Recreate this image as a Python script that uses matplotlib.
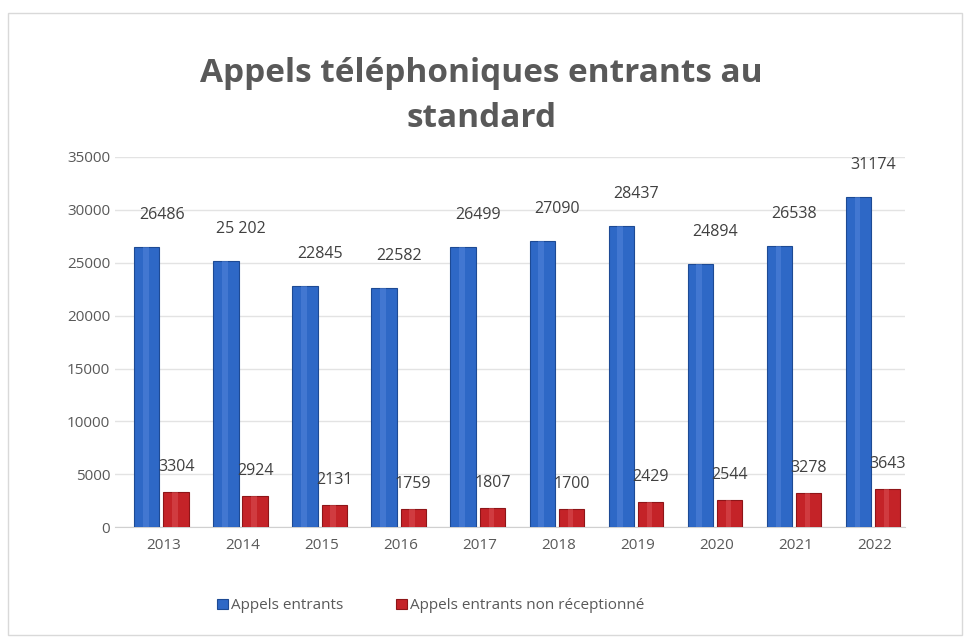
import matplotlib.pyplot as plt
import numpy as np
from matplotlib.patches import Rectangle

years = ["2013", "2014", "2015", "2016", "2017", "2018", "2019", "2020", "2021", "2022"]
appels = [26486, 25202, 22845, 22582, 26499, 27090, 28437, 24894, 26538, 31174]
non_recus = [3304, 2924, 2131, 1759, 1807, 1700, 2429, 2544, 3278, 3643]
blue_labels = ["26486", "25 202", "22845", "22582", "26499", "27090", "28437", "24894", "26538", "31174"]

plt.rcParams['font.family'] = ['Open Sans', 'DejaVu Sans']

fig = plt.figure(figsize=(9.68, 6.43), dpi=100)
ax = fig.add_axes([0.119, 0.180, 0.816, 0.576])

x = np.arange(len(years))
w = 0.32
blue = '#2e68c6'
red = '#c42328'

bb = ax.bar(x - 0.21, appels, w, color=blue, edgecolor='#1d4a94', linewidth=0.8,
            label='Appels entrants', zorder=3)
rb = ax.bar(x + 0.16, non_recus, w, color=red, edgecolor='#8e1518', linewidth=0.8,
            label='Appels entrants non réceptionné', zorder=3)

# light highlight to mimic the cylinder look
for bars, hl in ((bb, '#5b8be0'), (rb, '#e05a5e')):
    for b in bars:
        ax.add_patch(Rectangle((b.get_x() + b.get_width() * 0.35, 0), b.get_width() * 0.22,
                               b.get_height(), color=hl, alpha=0.45, lw=0, zorder=4))

for i in range(len(years)):
    ax.annotate(blue_labels[i], (x[i] - 0.02, appels[i]), xytext=(0, 23),
                textcoords='offset points', ha='center', va='center',
                fontsize=11.5, color='#404040')
    ax.annotate(str(non_recus[i]), (x[i] + 0.16, non_recus[i]), xytext=(0, 18),
                textcoords='offset points', ha='center', va='center',
                fontsize=11.5, color='#404040')

ax.set_xlim(-0.61, 9.38)
ax.set_ylim(0, 35000)
ax.set_yticks(range(0, 35001, 5000))
ax.set_xticks(x)
ax.set_xticklabels(years)
ax.tick_params(colors='#595959', labelsize=11, length=0)
ax.tick_params(axis='x', pad=8)
ax.grid(axis='y', color='#e3e3e3', linewidth=1, zorder=0)
for s in ('top', 'right', 'left'):
    ax.spines[s].set_visible(False)
ax.spines['bottom'].set_color('#d0d0d0')

fig.text(0.497, 0.885, "Appels téléphoniques entrants au", ha='center', va='center',
         fontsize=24, fontweight='bold', color='#595959')
fig.text(0.497, 0.815, "standard", ha='center', va='center',
         fontsize=24, fontweight='bold', color='#595959')

leg = fig.legend(handles=[bb, rb], loc='center', bbox_to_anchor=(0.445, 0.058), ncol=2,
                 frameon=False, fontsize=11, handlelength=0.7, handleheight=0.7,
                 handletextpad=0.2, columnspacing=3.5)
for t in leg.get_texts():
    t.set_color('#595959')

fig.patches.append(Rectangle((0.008, 0.012), 0.986, 0.968, transform=fig.transFigure,
                             fill=False, edgecolor='#d9d9d9', linewidth=1))

fig.savefig('out.png', dpi=100)
